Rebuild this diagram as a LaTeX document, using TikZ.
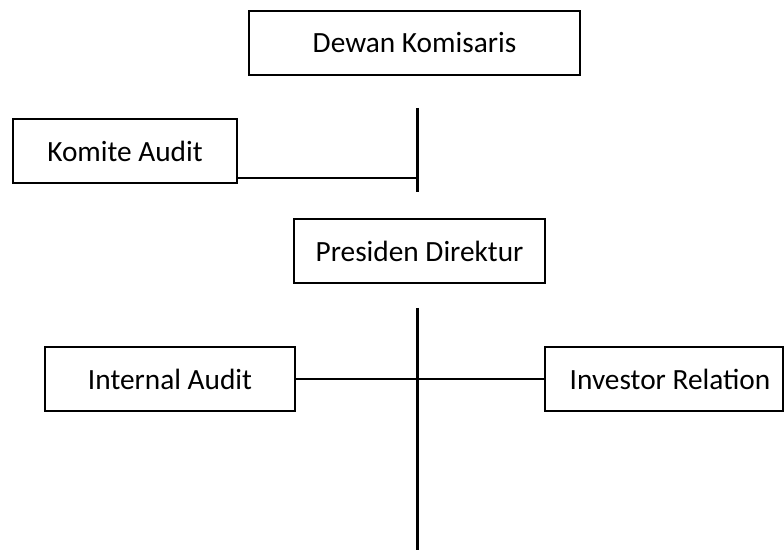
\documentclass[tikz,border=0pt]{standalone}
\usepackage{fontspec}
\setmainfont{Carlito}
\begin{document}
\begin{tikzpicture}[x=0.375pt, y=-0.375pt,
  orgbox/.style={draw, line width=0.95pt, inner sep=0pt, minimum height=64*0.375pt, font=\fontsize{11}{13}\selectfont},
  link/.style={line width=0.95pt}]
  \useasboundingbox (0,0) rectangle (784,551);

  % boxes
  \node[orgbox, minimum width=331*0.375pt] (dk) at (414.5,43) {Dewan Komisaris};
  \node[orgbox, minimum width=224*0.375pt] (ka) at (125,151) {Komite Audit};
  \node[orgbox, minimum width=251*0.375pt] (pd) at (419.5,251) {Presiden Direktur};
  \node[orgbox, minimum width=250*0.375pt] (ia) at (170,379) {Internal Audit};
  \node[orgbox, minimum width=238*0.375pt] (ir) at (664,379) {\hspace*{4.5pt}Investor Relation};

  % upper spine with the audit committee branch
  \coordinate (s1top) at (417.7,108);
  \coordinate (s1bot) at (417.7,192);
  \coordinate (kaj) at (417.7,178);
  \draw[link] (s1top) -- (s1bot);
  \draw[link] (kaj -| ka.east) -- (kaj);

  % lower spine with the two staff units
  \coordinate (s2top) at (417.7,308);
  \coordinate (s2bot) at (417.7,550);
  \draw[link] (s2top) -- (s2bot);
  \draw[link] (ia.east) -- (ir.west);
\end{tikzpicture}
\end{document}
